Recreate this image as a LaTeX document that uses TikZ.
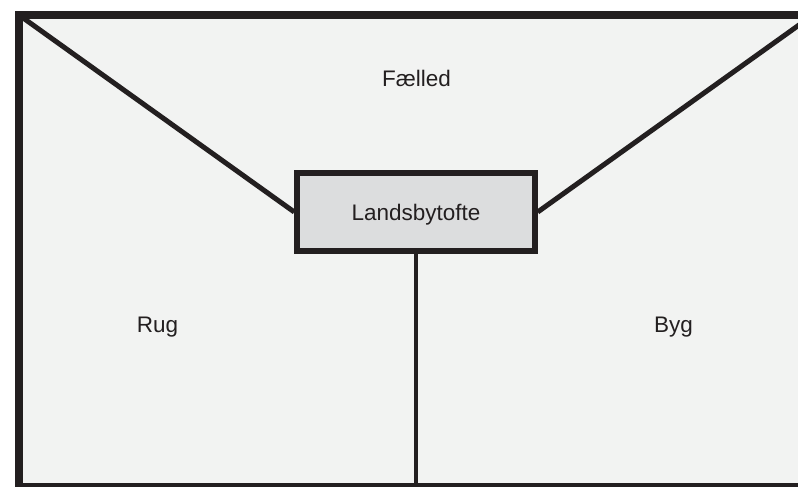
\documentclass[tikz,border=0pt]{standalone}
\usepackage{fontspec}
\setmainfont{Liberation Sans}
\usepackage{tikz}
\definecolor{ink}{HTML}{231F20}
\definecolor{field}{HTML}{F2F3F2}
\definecolor{toft}{HTML}{DCDDDE}

\begin{document}
\begin{tikzpicture}[x=1pt,y=-1pt,
    frame/.style={draw=ink,line width=8pt,fill=field},
    path/.style={draw=ink,line width=5pt},
    lane/.style={draw=ink,line width=4.5pt},
    toftbox/.style={draw=ink,line width=5.5pt,fill=toft,minimum width=238pt,minimum height=78pt,text height=16pt,text depth=0pt},
    label/.style={text=ink,anchor=base,font=\fontsize{22.5}{26}\selectfont}]
        \useasboundingbox (0,0) rectangle (798,487);
        \clip (0,0) rectangle (798,487);
        % Draw the village land
        \coordinate (nw) at (19,15);
        \coordinate (ne) at (813,15);
        \coordinate (s) at (416,487);
        \draw[frame] (nw) rectangle (813,487);
        \node[toftbox,label,anchor=center] (tofte) at (416,212) {Landsbytofte};
        \draw[path] (nw) -- (tofte.west);
        \draw[path] (ne) -- (tofte.east);
        \draw[lane] (tofte.south) -- (s);
        \node[label] (faelled) at (416.5,87) {Fælled};
        \node[label] (rug) at (157.5,332) {Rug};
        \node[label] (byg) at (673.5,332) {Byg};
    \end{tikzpicture}
\end{document}
